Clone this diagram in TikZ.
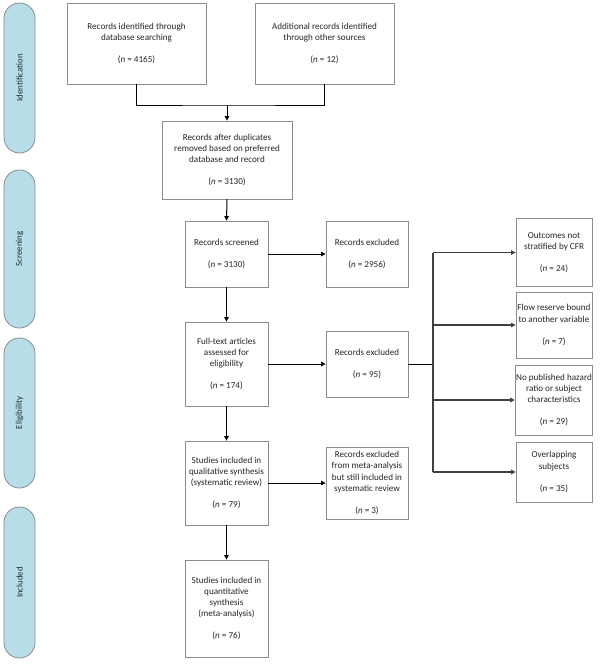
\documentclass[tikz,border=0pt]{standalone}
\usepackage{fontspec}
\setmainfont{Carlito}
\usetikzlibrary{arrows.meta}
\definecolor{boxline}{HTML}{8C8C8C}
\definecolor{sidefill}{HTML}{B7DEE8}
\definecolor{txt}{HTML}{262626}
\tikzset{
  box/.style={draw=boxline, line width=0.8pt, fill=white, align=center, text=txt,
    font=\fontsize{9.1}{11.2}\selectfont, inner sep=1pt},
  side/.style={draw=boxline, line width=0.8pt, fill=sidefill, rounded corners=15.5pt,
    minimum width=31pt, text=txt, font=\fontsize{8.8}{10}\selectfont},
  sidetext/.style={rotate=90, text=txt, font=\fontsize{8.8}{10}\selectfont},
  conn/.style={line width=1pt, draw=black},
  arr/.style={conn, -{Triangle[length=4.5pt,width=4.5pt]}},
  brconn/.style={line width=1.2pt, draw=black!75},
  brarr/.style={brconn, -{Triangle[length=4.5pt,width=4.5pt]}, draw=black!75}
}
\begin{document}
\begin{tikzpicture}[x=1pt,y=-1pt]
\useasboundingbox (0,0) rectangle (600,667);
% side bars
\node[side, minimum height=150pt] (s1) at (19.5,78) {};
\node[sidetext] (t1) at (s1.center) {Identification};
\node[side, minimum height=158pt] (s2) at (19.5,249) {};
\node[sidetext] (t2) at (s2.center) {Screening};
\node[side, minimum height=150pt] (s3) at (19.5,413) {};
\node[sidetext] (t3) at (s3.center) {Eligibility};
\node[side, minimum height=151pt] (s4) at (19.5,582.5) {};
\node[sidetext] (t4) at (s4.center) {Included};
% main boxes
\node[box, minimum width=139pt, minimum height=81pt] (b1) at (136.5,43.5)
  {Records identified through\\database searching\\[11pt](\textit{n} = 4165)};
\node[box, minimum width=139pt, minimum height=81pt] (b2) at (324.5,43.5)
  {Additional records identified\\through other sources\\[11pt](\textit{n} = 12)};
\node[box, minimum width=130pt, minimum height=78pt] (b3) at (227,160)
  {Records after duplicates\\removed based on preferred\\database and record\\[11pt](\textit{n} = 3130)};
\node[box, minimum width=83pt, minimum height=66pt] (b4) at (226.5,254)
  {Records screened\\[11pt](\textit{n} = 3130)};
\node[box, minimum width=82pt, minimum height=66pt] (b5) at (367,254)
  {Records excluded\\[11pt](\textit{n} = 2956)};
\node[box, minimum width=83pt, minimum height=84pt] (b6) at (226.5,364)
  {Full-text articles\\assessed for\\eligibility\\[11pt](\textit{n} = 174)};
\node[box, minimum width=82pt, minimum height=66pt] (b7) at (367,364)
  {Records excluded\\[11pt](\textit{n} = 95)};
\node[box, minimum width=83pt, minimum height=84pt] (b8) at (226.5,483)
  {Studies included in\\qualitative synthesis\\(systematic review)\\[11pt](\textit{n} = 79)};
\node[box, minimum width=82pt, minimum height=72pt] (b9) at (367,483)
  {Records excluded\\from meta-analysis\\but still included in\\systematic review\\[11pt](\textit{n} = 3)};
\node[box, minimum width=83pt, minimum height=97pt] (b10) at (226.5,608.5)
  {Studies included in\\quantitative\\synthesis\\(meta-analysis)\\[11pt](\textit{n} = 76)};
% right boxes
\node[box, minimum width=76pt, minimum height=68pt] (r1) at (554,252.5)
  {Outcomes not\\stratified by CFR\\[11pt](\textit{n} = 24)};
\node[box, minimum width=76pt, minimum height=66pt] (r2) at (554,325)
  {Flow reserve bound\\to another variable\\[11pt](\textit{n} = 7)};
\node[box, minimum width=76pt, minimum height=70pt] (r3) at (554,400)
  {No published hazard\\ratio or subject\\characteristics\\[11pt](\textit{n} = 29)};
\node[box, minimum width=76pt, minimum height=60pt] (r4) at (554,472)
  {Overlapping\\subjects\\[11pt](\textit{n} = 35)};
% connectors
\coordinate (j) at (227,105);
\draw[conn] (b1.south) |- (j) -| (b2.south);
\draw[arr] (j) -- (b3.north);
\draw[arr] (b3.south) -- (b4.north);
\draw[arr] (b4.east) -- (b5.west);
\draw[arr] (b4.south) -- (b6.north);
\draw[arr] (b6.east) -- (b7.west);
\draw[arr] (b6.south) -- (b8.north);
\draw[arr] (b8.east) -- (b9.west);
\draw[arr] (b8.south) -- (b10.north);
\coordinate (br) at (433,364);
\draw[conn] (b7.east) -- (br);
\draw[brconn] (br |- r1.west) -- (br |- r4.west);
\draw[brarr] (br |- r1.west) -- (r1.west);
\draw[brarr] (br |- r2.west) -- (r2.west);
\draw[brarr] (br |- r3.west) -- (r3.west);
\draw[brarr] (br |- r4.west) -- (r4.west);
\end{tikzpicture}
\end{document}
